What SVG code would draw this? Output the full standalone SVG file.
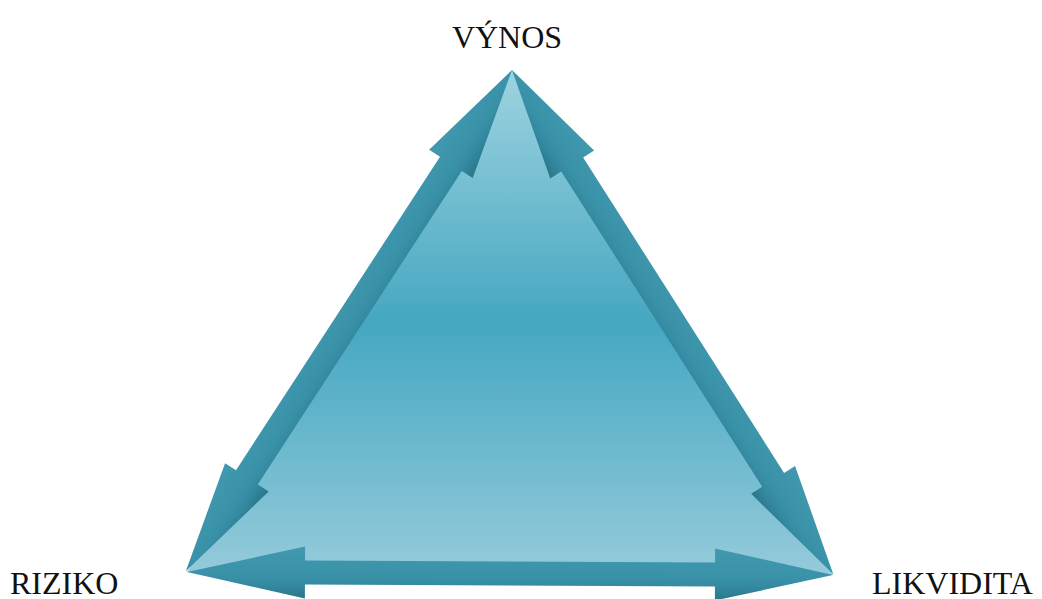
<svg xmlns="http://www.w3.org/2000/svg" width="1042" height="599" viewBox="0 0 1042 599">
<defs>
<linearGradient id="triGrad" gradientUnits="userSpaceOnUse" x1="0" y1="70" x2="0" y2="575">
<stop offset="0" stop-color="#9ed3e0"/>
<stop offset="0.5" stop-color="#45a7c1"/>
<stop offset="1" stop-color="#95cbdb"/>
</linearGradient>
<linearGradient id="arrGrad" x1="0" y1="0" x2="0" y2="1">
<stop offset="0" stop-color="#4199b0"/>
<stop offset="0.55" stop-color="#3a92a9"/>
<stop offset="0.75" stop-color="#3389a0"/>
<stop offset="1" stop-color="#2a768a"/>
</linearGradient>
<linearGradient id="arrGradFlip" x1="0" y1="1" x2="0" y2="0">
<stop offset="0" stop-color="#4199b0"/>
<stop offset="0.55" stop-color="#3a92a9"/>
<stop offset="0.75" stop-color="#3389a0"/>
<stop offset="1" stop-color="#2a768a"/>
</linearGradient>
</defs>
<style>
.lbl{font-family:"Liberation Serif","Times New Roman",serif;font-size:32px;fill:#111;}
.arr{fill:url(#arrGrad);}
.arrf{fill:url(#arrGradFlip);}
</style>
<rect width="1042" height="599" fill="#ffffff"/>
<g id="triangle">
<polygon points="512,70 187,572 833,575" fill="url(#triGrad)"/>
</g>
<g id="connectors">
<g transform="translate(512,70) rotate(123.06)">
<path class="arrf" d="M0,0 L112,-26 L112,-13 L486,-13 L486,-26 L598,0 L486,26 L486,13 L112,13 L112,26 Z"/>
</g>
<g transform="translate(512,70) rotate(57.5)">
<path class="arr" d="M0,0 L112,-26 L112,-13 L486,-13 L486,-26 L598,0 L486,26 L486,13 L112,13 L112,26 Z"/>
</g>
<g transform="translate(187,572) rotate(0.27)">
<path class="arr" d="M0,0 L118,-26 L118,-12 L528,-12 L528,-26 L646,0 L528,26 L528,12 L118,12 L118,26 Z"/>
</g>
</g>
<g id="node-vynos"><text class="lbl" x="507" y="48" text-anchor="middle">VÝNOS</text></g>
<g id="node-riziko"><text class="lbl" x="10" y="594">RIZIKO</text></g>
<g id="node-likvidita"><text class="lbl" x="872" y="594">LIKVIDITA</text></g>
</svg>
